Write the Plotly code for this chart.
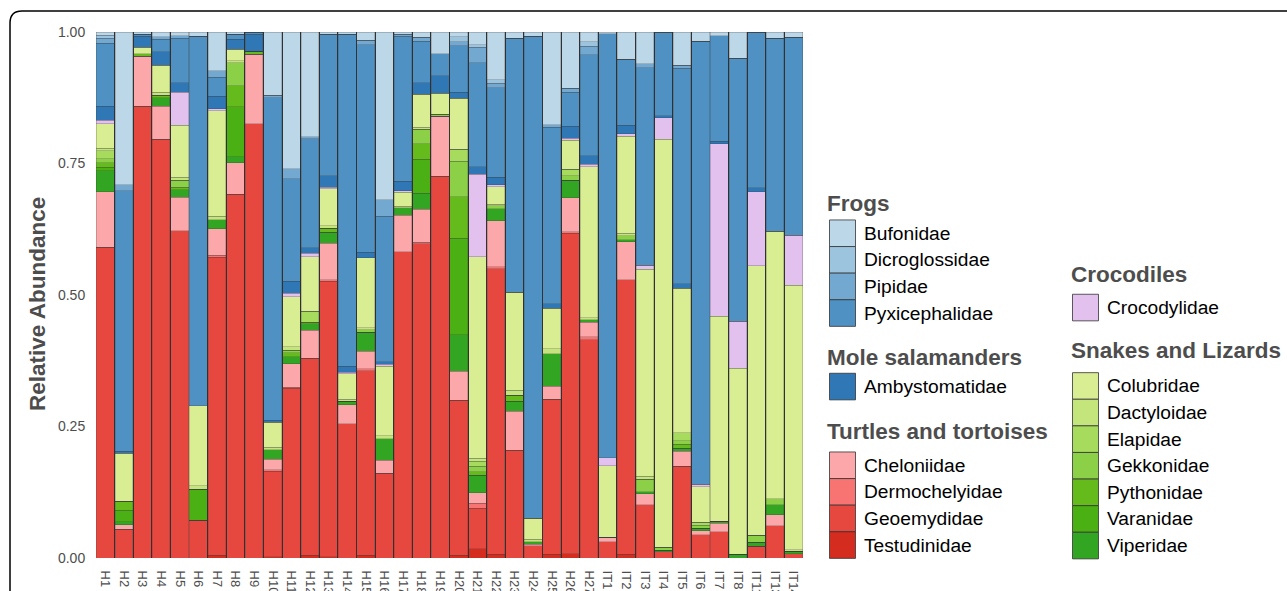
import plotly.graph_objects as go

# ---------------- data ----------------
samples = ["H1", "H2", "H3", "H4", "H5", "H6", "H7", "H8", "H9", "H10",
           "H11", "H12", "H13", "H14", "H15", "H16", "H17", "H18", "H19", "H20",
           "H21", "H22", "H23", "H24", "H25", "H26", "H27",
           "IT1", "IT2", "IT3", "IT4", "IT5", "IT6", "IT7", "IT8", "IT11", "IT13", "IT14"]

testudinidae = [0, 0, 0, 0, 0, 0, .005, 0, 0, .002, 0, .005, .002, 0, .005, 0, 0, 0, 0, .005,
                .018, .007, 0, 0, .007, .008, 0, 0, .007, 0, 0, 0, 0, 0, 0, 0, 0, 0]
geoemydidae = [.591, .055, .859, .796, .622, .072, .567, .692, .826, .163, .323, .375, .524, .255,
               .351, .161, .582, .597, .726, .295, .077, .543, .205, .023, .295, .609, .415,
               .031, .522, .101, .012, .174, .044, .050, 0, .022, .061, .008]
dermochelyidae = [0, 0, 0, 0, 0, 0, .004, 0, 0, .003, .002, 0, .003, 0, .004, 0, 0, .003, 0, 0,
                  .009, .004, 0, 0, 0, .003, .006, 0, 0, 0, 0, 0, 0, 0, 0, 0, 0, 0]
cheloniidae = [.105, .008, .095, .063, .064, 0, .050, .059, .132, .020, .044, .053, .069, .036,
               .033, .025, .070, .063, .114, .055, .020, .087, .074, .003, .025, .065, .027,
               .008, .072, .021, 0, .029, .008, .016, 0, 0, .021, 0]
viperidae = [.040, .006, 0, .016, .014, 0, .017, .012, 0, .018, .014, .012, .021, .007, .036,
             .041, .014, .030, 0, .069, .033, .023, .019, .005, .061, .033, .005,
             0, .004, .004, .003, .006, .005, .004, .007, .008, .019, .005]
varanidae = [.007, .022, 0, 0, 0, .059, 0, .095, 0, 0, 0, 0, 0, 0, 0, 0, 0, .065, 0, .184,
             0, 0, 0, 0, 0, 0, 0, 0, 0, 0, 0, 0, 0, 0, 0, 0, 0, 0]
pythonidae = [.008, .017, .005, .005, .005, 0, 0, .040, .005, 0, .007, .003, .008, 0, 0, 0, 0,
              .030, 0, .079, .007, 0, .011, 0, 0, 0, 0, 0, 0, 0, 0, .007, 0, 0, 0, 0, 0, 0]
gekkonidae = [.008, 0, 0, 0, .013, 0, 0, .044, 0, 0, .005, 0, 0, 0, .005, 0, 0, .027, .004,
              .067, .010, .006, 0, 0, 0, .009, 0, 0, .008, .024, .005, .007, .005, 0, 0,
              .013, .012, 0]
elapidae = [.015, 0, 0, 0, 0, 0, 0, 0, 0, 0, 0, .021, 0, 0, 0, 0, 0, 0, 0, .023, .010, 0, 0,
            0, 0, .012, 0, 0, 0, 0, 0, .015, .006, 0, 0, 0, 0, 0]
dactyloidae = [.005, 0, 0, .005, .006, .006, .007, .003, 0, .005, .007, 0, .005, .004, .004,
               .005, .003, .004, 0, 0, .006, .003, .010, .005, .010, 0, .004, 0, .004, .005,
               0, 0, 0, 0, 0, 0, 0, .003]
colubridae = [.047, .091, .012, .052, .099, .152, .200, .022, 0, .047, .095, .104, .070, .048,
              .133, .133, .026, .063, .040, .097, .383, .033, .186, .040, .077, .055, .287,
              .136, .185, .394, .776, .275, .067, .390, .354, .513, .508, .503]
crocodylidae = [.006, 0, 0, 0, .062, 0, .004, 0, 0, 0, .006, .006, .003, .003, 0, .003, .003,
                0, 0, 0, .157, .004, 0, 0, 0, .004, .005, .016, .005, .008, .041, 0, .005,
                .328, .089, .140, 0, .095]
ambystomatidae = [.027, .004, .021, .025, .019, 0, .024, .019, .033, .004, .023, .011, .022,
                  .012, .010, .005, .018, .022, .033, .011, .014, .014, 0, 0, .008, .023, .016,
                  0, .016, 0, .004, .008, 0, .004, 0, .008, 0, 0]
pyxicephalidae = [.120, .495, .004, .024, .084, .703, .036, .010, .004, .613, .195, .207, .269,
                  .631, .395, .277, .276, .078, .042, .089, .198, .170, .483, .916, .336, .064,
                  .192, .806, .125, .375, .159, .410, .842, .201, .500, .296, .367, .376]
pipidae = [.009, .012, 0, .005, .005, 0, .012, 0, 0, .005, .019, .004, 0, 0, .008, .031, .004,
           .008, 0, .007, .029, .009, 0, 0, .005, .008, .016, 0, 0, .008, 0, .006, 0, 0, 0,
           0, 0, 0]
dicroglossidae = [.006, 0, 0, 0, 0, 0, 0, 0, 0, 0, 0, 0, 0, 0, 0, 0, 0, 0, 0, .010, .005,
                  .006, 0, 0, 0, 0, .008, 0, 0, 0, 0, 0, 0, 0, 0, 0, 0, 0]
bufonidae = [.006, .290, .004, .009, .007, .008, .074, .004, 0, .120, .260, .199, .004, .004,
             .016, .319, .004, .010, .041, .009, .024, .091, .012, .008, .176, .107, .019,
             .003, .052, .060, 0, .063, .018, .007, .050, 0, .012, .010]

y_ticks = [0, 0.25, 0.5, 0.75, 1.0]
y_tick_labels = ["0.00", "0.25", "0.50", "0.75", "1.00"]

# stacking order, bottom to top
stack = [
    ("Testudinidae", testudinidae, "#d42c1f"),
    ("Geoemydidae", geoemydidae, "#e64840"),
    ("Dermochelyidae", dermochelyidae, "#f77473"),
    ("Cheloniidae", cheloniidae, "#fca8aa"),
    ("Viperidae", viperidae, "#32a523"),
    ("Varanidae", varanidae, "#4bb013"),
    ("Pythonidae", pythonidae, "#64bb1b"),
    ("Gekkonidae", gekkonidae, "#8bd046"),
    ("Elapidae", elapidae, "#a7db5e"),
    ("Dactyloidae", dactyloidae, "#c4e57b"),
    ("Colubridae", colubridae, "#d9ed92"),
    ("Crocodylidae", crocodylidae, "#e2c1ee"),
    ("Ambystomatidae", ambystomatidae, "#2f78b5"),
    ("Pyxicephalidae", pyxicephalidae, "#4f91c2"),
    ("Pipidae", pipidae, "#73a9d0"),
    ("Dicroglossidae", dicroglossidae, "#9dc4de"),
    ("Bufonidae", bufonidae, "#bcd7e8"),
]
color_of = {n: c for n, _, c in stack}

legend_col1 = [("Frogs", ["Bufonidae", "Dicroglossidae", "Pipidae", "Pyxicephalidae"]),
               ("Mole salamanders", ["Ambystomatidae"]),
               ("Turtles and tortoises", ["Cheloniidae", "Dermochelyidae", "Geoemydidae", "Testudinidae"])]
legend_col2 = [("Crocodiles", ["Crocodylidae"]),
               ("Snakes and Lizards", ["Colubridae", "Dactyloidae", "Elapidae", "Gekkonidae",
                                       "Pythonidae", "Varanidae", "Viperidae"])]

# ---------------- figure ----------------
FONT = "Liberation Sans, Arial, sans-serif"
W, H_TARGET = 1287, 591
H = 609                      # rendered height (page is captured a bit taller)
K = H / H_TARGET             # vertical conversion from target pixels
ML, MR = 96, 484
MT, MB = round(31 * K), round(34 * K)
PW, PH = W - ML - MR, H - MT - MB


def px(x):
    return (x - ML) / PW


def py(y):
    return (H - MB - y * K) / PH


fig = go.Figure()
for name, vals, col in stack:
    fig.add_trace(go.Bar(
        x=samples, y=vals, name=name, showlegend=False,
        marker=dict(color=col, line=dict(color="#3a3a3a", width=0.25)),
    ))

shapes = []
annotations = []

# border of the panel (rounded top-left corner)
x0, yt = px(10), py(10)
rx, ry = 12 / PW, 12 * K / PH
shapes.append(dict(
    type="path", xref="paper", yref="paper",
    path=f"M {x0},{py(640)} L {x0},{yt - ry} Q {x0},{yt} {x0 + rx},{yt} L {px(1320)},{yt}",
    line=dict(color="black", width=1.5), layer="above",
))

# y axis title
annotations.append(dict(
    x=px(38), y=py(303), xref="paper", yref="paper", xanchor="center", yanchor="middle",
    showarrow=False, textangle=-90, text="<b>Relative Abundance</b>",
    font=dict(family=FONT, size=22.5, color="#4d4d4d"),
))


def add_legend(groups, title_x, sw_x, text_x, title_ys, first_sw_tops):
    step = 26.6
    for (title, items), ty, top in zip(groups, title_ys, first_sw_tops):
        annotations.append(dict(
            x=px(title_x), y=py(ty), xref="paper", yref="paper", xanchor="left",
            yanchor="middle", showarrow=False, text=f"<b>{title}</b>",
            font=dict(family=FONT, size=22.5, color="#4d4d4d"),
        ))
        for i, it in enumerate(items):
            y0 = top + i * step
            y1 = y0 + step
            shapes.append(dict(
                type="rect", xref="paper", yref="paper",
                x0=px(sw_x), x1=px(sw_x + 26), y0=py(y1), y1=py(y0),
                fillcolor=color_of[it], line=dict(color="#333333", width=0.8),
            ))
            annotations.append(dict(
                x=px(text_x), y=py((y0 + y1) / 2), xref="paper", yref="paper",
                xanchor="left", yanchor="middle", showarrow=False, text=it,
                font=dict(family=FONT, size=19.2, color="black"),
            ))


add_legend(legend_col1, 825, 829.5, 862, [203, 357, 431], [219, 372.3, 451])
add_legend(legend_col2, 1068.5, 1072.5, 1105, [274, 349.3], [293.3, 371.7])

fig.update_layout(
    width=W, height=H,
    margin=dict(l=ML, r=MR, t=MT, b=MB, pad=0),
    barmode="stack", bargap=0.05,
    paper_bgcolor="white", plot_bgcolor="#2e2e2e",
    font=dict(family=FONT, color="#4d4d4d"),
    shapes=shapes, annotations=annotations,
    showlegend=False,
    xaxis=dict(
        tickangle=90, tickfont=dict(size=13, color="#4d4d4d", family=FONT),
        ticks="outside", ticklen=9, tickcolor="rgba(0,0,0,0)",
        showgrid=False, zeroline=False, showline=False,
    ),
    yaxis=dict(
        range=[0, 1.0], tickvals=y_ticks, ticktext=y_tick_labels,
        tickfont=dict(size=14, color="#4d4d4d", family=FONT),
        ticks="outside", ticklen=7, tickcolor="rgba(0,0,0,0)",
        showgrid=False, zeroline=False, showline=False,
    ),
)

post = (
    "document.documentElement.style.margin='0';"
    "document.body.style.margin='0';"
    "var gd=document.getElementById('{plot_id}');"
    "gd.style.position='fixed';gd.style.left='0px';gd.style.top='0px';"
)
fig.write_html("out.html", config={"displayModeBar": False}, post_script=post)
